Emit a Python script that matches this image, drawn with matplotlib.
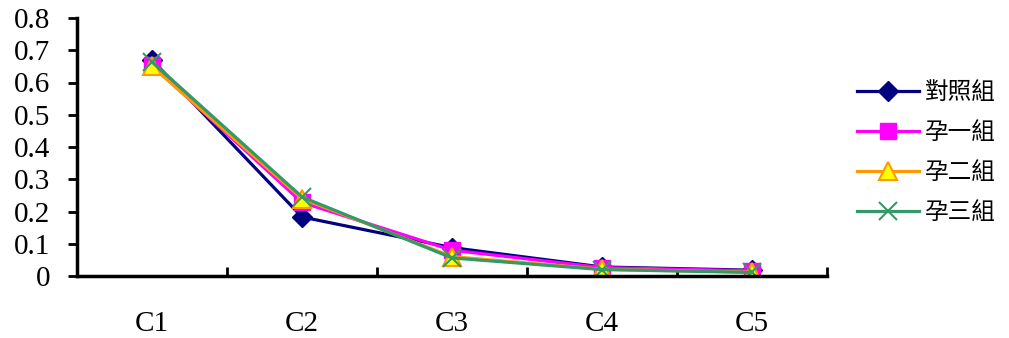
import matplotlib
matplotlib.use("Agg")
import matplotlib.pyplot as plt
import numpy as np

categories = ["C1", "C2", "C3", "C4", "C5"]
series_names = ["對照組", "孕一組", "孕二組", "孕三組"]
control = [0.670, 0.183, 0.088, 0.028, 0.018]
preg1 = [0.654, 0.228, 0.080, 0.026, 0.016]
preg2 = [0.650, 0.240, 0.060, 0.021, 0.012]
preg3 = [0.664, 0.245, 0.056, 0.020, 0.011]
y_ticks = [0, 0.1, 0.2, 0.3, 0.4, 0.5, 0.6, 0.7, 0.8]
y_labels = ["0", "0.1", "0.2", "0.3", "0.4", "0.5", "0.6", "0.7", "0.8"]

serif = ["Liberation Serif", "DejaVu Serif"]
cjk = ["Noto Sans CJK TC", "DejaVu Sans"]
plt.rcParams["font.family"] = serif

fig = plt.figure(figsize=(10.09, 3.38), dpi=100)
ax = fig.add_axes([77/1009, 62/338, 750/1009, 258/338])

x = np.arange(len(categories))
styles = [
    dict(color="#000080", marker="D", markersize=10, markerfacecolor="#000080", markeredgecolor="#000080"),
    dict(color="#FF00FF", marker="s", markersize=11, markerfacecolor="#FF00FF", markeredgecolor="#FF00FF"),
    dict(color="#FF9900", marker="^", markersize=13, markerfacecolor="#FFFF00", markeredgecolor="#FF9900", markeredgewidth=1.5),
    dict(color="#339966", marker="x", markersize=13, markeredgewidth=1.5),
]
handles = []
for vals, name, st in zip([control, preg1, preg2, preg3], series_names, styles):
    h, = ax.plot(x, vals, linewidth=2.3, label=name, **st)
    handles.append(h)

ax.set_xlim(-0.5, len(categories) - 0.5)
ax.set_ylim(0, 0.8)
ax.set_yticks(y_ticks)
ax.set_yticklabels(y_labels)
ax.tick_params(axis="y", direction="out", length=6.5, width=2, pad=13, labelsize=21)

ax.set_xticks(np.arange(len(categories)) + 0.5)
ax.set_xticklabels([])
ax.tick_params(axis="x", which="major", direction="in", length=6.5, width=2)
ax.set_xticks(x, minor=True)
ax.set_xticklabels(categories, minor=True)
ax.tick_params(axis="x", which="minor", length=0, pad=25, labelsize=21)

for s in ["top", "right"]:
    ax.spines[s].set_visible(False)
for s in ["left", "bottom"]:
    ax.spines[s].set_linewidth(2.5)

fig.legend(handles=handles, labels=series_names, loc="upper left",
           bbox_to_anchor=(848/1009, 1 - 72/338), frameon=False,
           prop={"family": cjk, "size": 17}, handlelength=2.6,
           handletextpad=0.25, labelspacing=0.72, borderaxespad=0)

fig.savefig("out.png", dpi=100)
